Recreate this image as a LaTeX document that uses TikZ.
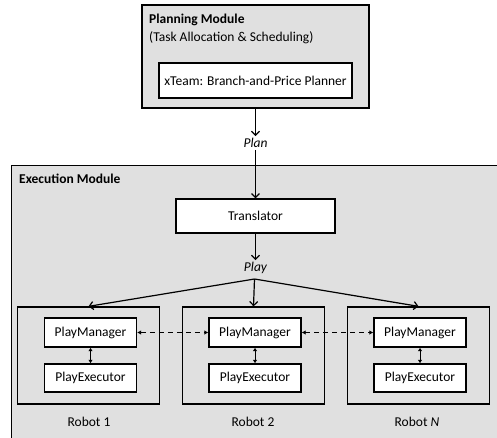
\documentclass[tikz,border=0pt]{standalone}
\usepackage{fontspec}
\setmainfont{Carlito}
\usetikzlibrary{arrows.meta}
\definecolor{modgray}{RGB}{224,224,224}
\begin{document}
\begin{tikzpicture}[x=1pt,y=-1pt,
  font=\fontsize{13.5}{16}\selectfont,
  module/.style={draw=black, line width=1.4pt, fill=modgray, inner sep=0pt},
  wbox/.style={draw=black, line width=1.3pt, fill=white, inner sep=0pt},
  robotbox/.style={draw=black, line width=1.3pt, inner sep=0pt, minimum width=142pt, minimum height=97pt},
  pmbox/.style={wbox, minimum width=92pt, minimum height=29pt},
  flow/.style={line width=1.2pt, -{Straight Barb[length=4pt,width=8pt]}},
  link/.style={line width=1pt, dash pattern=on 5pt off 4pt, {Latex[length=4pt,width=4.5pt]}-{Latex[length=4pt,width=4.5pt]}},
  biarrow/.style={line width=1pt, {Latex[length=3.5pt,width=4.5pt]}-{Latex[length=3.5pt,width=4.5pt]}},
  lbl/.style={inner sep=2pt}
]
\clip (0,0) rectangle (497,437);
\fill[white] (0,0) rectangle (497,437);

% Planning module
\node[module, minimum width=227pt, minimum height=103pt] (plan) at (255.5,56.5) {};
\node[anchor=west, inner sep=0pt] (plantitle) at (149,20) {\bfseries Planning Module};
\node[anchor=west, inner sep=0pt] (plansub) at (149,38) {(Task Allocation \& Scheduling)};
\node[wbox, minimum width=193pt, minimum height=35pt] (xteam) at (255.5,80.5) {xTeam: Branch-and-Price Planner};

% Plan label
\node[lbl] (plantext) at (255.5,143) {\itshape Plan};

% Execution module
\node[module, anchor=north west, minimum width=520pt, minimum height=300pt] (exec) at (11,165) {};
\node[anchor=west, inner sep=0pt] (exectitle) at (19,179) {\bfseries Execution Module};

\node[wbox, minimum width=159pt, minimum height=34pt] (trans) at (255.5,216) {Translator};
\node[lbl] (playtext) at (255.5,268) {\itshape Play};
\coordinate (br) at (254.5,279);

% Robots
\node[robotbox] (r1) at (88.5,355.5) {};
\node[robotbox] (r2) at (253.5,355.5) {};
\node[robotbox] (r3) at (418.5,355.5) {};

\node[pmbox] (pm1) at (90.5,332.5) {PlayManager};
\node[pmbox] (pm2) at (255,332.5) {PlayManager};
\node[pmbox] (pm3) at (420,332.5) {PlayManager};
\node[pmbox, minimum height=28pt] (pe1) at (90.5,378) {PlayExecutor};
\node[pmbox, minimum height=28pt] (pe2) at (255,378) {PlayExecutor};
\node[pmbox, minimum height=28pt] (pe3) at (420,378) {PlayExecutor};

\node (l1) at (89,422) {Robot 1};
\node (l2) at (253,422) {Robot 2};
\node (l3) at (417,422) {Robot \textit{N}};

% Connectors
\draw[flow] (plan.south) -- (plantext.north);
\draw[flow] (plantext.south) -- (trans.north);
\draw[flow] (trans.south) -- (playtext.north);
\draw[flow] (br) -- (r1.north);
\draw[flow] (br) -- (r2.north);
\draw[flow] (br) -- (r3.north);

\draw[link] (pm1.east) -- (pm2.west);
\draw[link] (pm2.east) -- (pm3.west);

\draw[biarrow] (pm1.south) -- (pe1.north);
\draw[biarrow] (pm2.south) -- (pe2.north);
\draw[biarrow] (pm3.south) -- (pe3.north);
\end{tikzpicture}
\end{document}
